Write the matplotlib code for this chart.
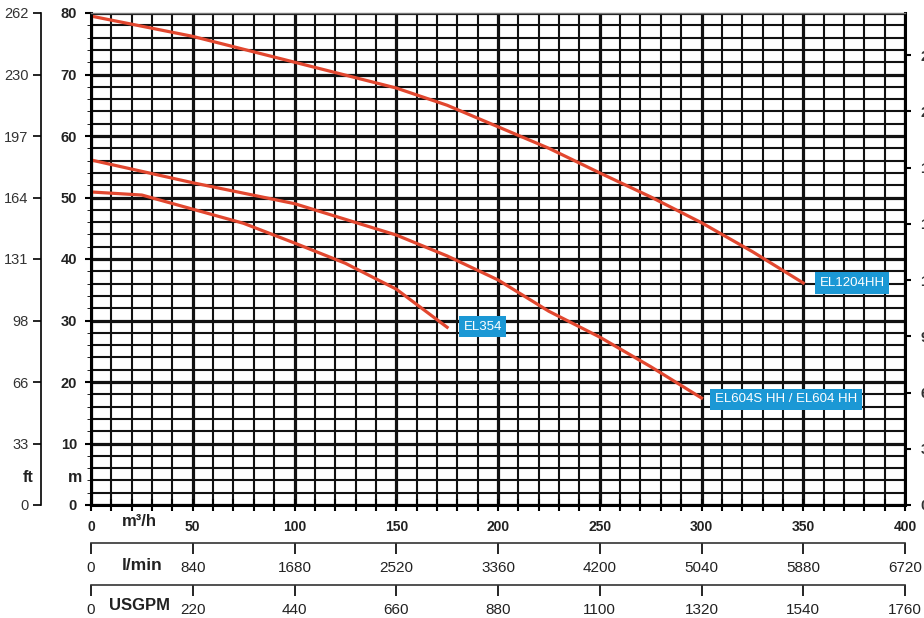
import matplotlib.pyplot as plt

plt.rcParams["font.family"] = ["Liberation Sans", "DejaVu Sans"]

# pump curves, flow in m3/h, head in m
el1204_q = [0, 50, 100, 150, 175, 200, 225, 250, 275, 300, 325, 350]
el1204_h = [79.5, 76.2, 72.0, 67.8, 65.0, 61.5, 58.0, 54.0, 50.1, 45.9, 41.2, 36.1]
el604_q = [0, 50, 100, 150, 175, 200, 225, 250, 275, 300]
el604_h = [56.1, 52.4, 49.0, 43.9, 40.5, 36.6, 31.5, 27.3, 22.5, 17.4]
el354_q = [0, 25, 50, 75, 100, 125, 150, 175]
el354_h = [50.9, 50.4, 48.1, 45.8, 42.6, 39.3, 35.1, 28.9]

m_ticks = [0, 10, 20, 30, 40, 50, 60, 70, 80]
ft_labels = ["0", "33", "66", "98", "131", "164", "197", "230", "262"]
ft_right = [0, 30, 60, 90, 120, 150, 180, 210, 240]
q_ticks = [0, 50, 100, 150, 200, 250, 300, 350, 400]
lmin_ticks = [0, 840, 1680, 2520, 3360, 4200, 5040, 5880, 6720]
usgpm_ticks = [0, 220, 440, 660, 880, 1100, 1320, 1540, 1760]

W, H = 924, 618
RED = "#e2472f"
BLUE = "#1b98d5"


def box(x0, y0, x1, y1):
    return [x0 / W, 1 - y1 / H, (x1 - x0) / W, (y1 - y0) / H]


fig = plt.figure(figsize=(W / 100, H / 100), dpi=100)

ax = fig.add_axes(box(91, 13, 905, 505))
ax.set_xlim(0, 400)
ax.set_ylim(0, 80)
ax.set_xticks(q_ticks)
ax.set_xticks(range(0, 401, 10), minor=True)
ax.set_yticks(m_ticks)
ax.set_yticks(range(0, 81, 2), minor=True)
ax.grid(which="major", color="#111111", lw=2.3)
ax.grid(which="minor", color="#111111", lw=1.5)
ax.tick_params(axis="x", which="both", direction="inout", length=8, width=1.5, pad=7)
ax.tick_params(axis="y", which="major", direction="out", length=4, width=1.5, pad=6)
ax.tick_params(axis="y", which="minor", left=False, right=True, direction="out", length=3)
for lab in ax.get_xticklabels():
    lab.set_fontweight("bold")
    lab.set_fontsize(10)
    lab.set_color("#222222")
for lab in ax.get_yticklabels():
    lab.set_fontweight("bold")
    lab.set_fontsize(10.5)
    lab.set_color("#222222")
for s in ["left", "bottom", "right"]:
    ax.spines[s].set_linewidth(2.2)
ax.spines["top"].set_linewidth(1.0)
ax.spines["top"].set_color("#777777")

ax.plot(el1204_q, el1204_h, color=RED, lw=2.3)
ax.plot(el604_q, el604_h, color=RED, lw=2.3)
ax.plot(el354_q, el354_h, color=RED, lw=2.3)

bb = dict(boxstyle="square,pad=0.35", fc=BLUE, ec="none")
ax.text(358, 36.1, "EL1204HH", color="white", fontsize=9.5, ha="left", va="center", bbox=bb)
ax.text(183, 29.0, "EL354", color="white", fontsize=9.5, ha="left", va="center", bbox=bb)
ax.text(306.5, 17.2, "EL604S HH / EL604 HH", color="white", fontsize=9.5,
        ha="left", va="center", bbox=bb)

# right ft scale (cut by the image edge)
axr = ax.twinx()
axr.set_ylim(0, 80 / 0.3048)
axr.set_yticks(ft_right)
axr.tick_params(axis="y", direction="out", length=4, width=1.5, pad=7,
                labelsize=10.5, labelcolor="#333333")
for lab in axr.get_yticklabels():
    lab.set_fontweight("bold")
for s in axr.spines.values():
    s.set_visible(False)

# left ft scale
axl = fig.add_axes(box(41, 13, 42, 505))
axl.set_ylim(0, 80)
axl.set_yticks(m_ticks)
axl.set_yticklabels(ft_labels)
axl.set_xticks([])
axl.patch.set_visible(False)
for s in ["top", "right", "bottom"]:
    axl.spines[s].set_visible(False)
axl.spines["left"].set_linewidth(1.2)
axl.tick_params(axis="y", direction="out", length=6, width=1.2, pad=3,
                labelsize=10.5, labelcolor="#333333")

# l/min and USGPM scales
for ypix, ticks in [(543, lmin_ticks), (585, usgpm_ticks)]:
    a = fig.add_axes(box(91, ypix - 1, 905, ypix))
    a.set_xlim(ticks[0], ticks[-1])
    a.set_xticks(ticks)
    a.set_yticks([])
    a.patch.set_visible(False)
    for s in ["top", "right", "left"]:
        a.spines[s].set_visible(False)
    a.spines["bottom"].set_linewidth(1.2)
    a.spines["bottom"].set_color("#333333")
    a.tick_params(axis="x", direction="out", length=8, width=1.2, pad=5,
                  labelsize=11, labelcolor="#222222")

fig.text(28 / W, 1 - 478 / H, "ft", ha="center", va="center", fontsize=11.5,
         fontweight="bold", color="#222222")
fig.text(75 / W, 1 - 478 / H, "m", ha="center", va="center", fontsize=11.5,
         fontweight="bold", color="#222222")
fig.text(139 / W, 1 - 521 / H, "m³/h", ha="center", va="center", fontsize=12,
         fontweight="bold", color="#222222")
fig.text(142 / W, 1 - 565 / H, "l/min", ha="center", va="center", fontsize=12.5,
         fontweight="bold", color="#222222")
fig.text(140 / W, 1 - 606 / H, "USGPM", ha="center", va="center", fontsize=12,
         fontweight="bold", color="#222222")

fig.savefig("out.png", dpi=100)
